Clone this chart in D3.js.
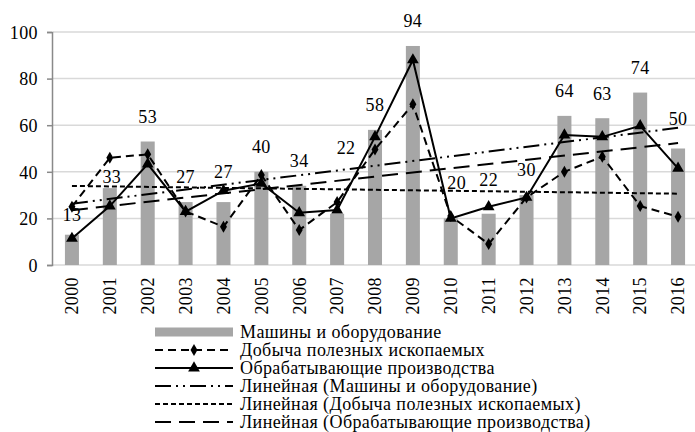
<!DOCTYPE html>
<html lang="ru">
<head>
<meta charset="UTF-8">
<title>chart</title>
<script src="https://d3js.org/d3.v7.min.js"></script>
<style>
  body { margin: 0; background: #fff; }
</style>
</head>
<body>
<svg></svg>
<script>
  const years = ['2000','2001','2002','2003','2004','2005','2006','2007','2008','2009','2010','2011','2012','2013','2014','2015','2016']
  const machines = [13, 33, 53, 27, 27, 40, 34, 22, 58, 94, 20, 22, 30, 64, 63, 74, 50]
  const mining = [25, 46, 47.5, 23, 16.4, 38.6, 15, 27, 49.6, 69, 21, 9, 29, 40, 46.5, 25.3, 20.7]
  const manufacturing = [11.4, 25.3, 43.3, 22.9, 31.9, 35, 22.4, 23.6, 55, 88, 20, 25, 29, 55.8, 55, 59.7, 41.5]
  const yTicks = [0, 20, 40, 60, 80, 100]
  const legendNames = [
    'Машины и оборудование',
    'Добыча полезных ископаемых',
    'Обрабатывающие производства',
    'Линейная (Машины и оборудование)',
    'Линейная (Добыча полезных ископаемых)',
    'Линейная (Обрабатывающие производства)'
  ]

  const FONT = "'Liberation Serif', 'Times New Roman', serif"
  const FS = '18px', LS = '0.4px'
  const W = 695, H = 432
  const svg = d3.select('svg').attr('width', W).attr('height', H)
    .style('font-family', FONT)

  const x = d3.scaleBand().domain(years).range([53, 697]).paddingInner(0.63).paddingOuter(0.315)
  const cx = d => x(d) + x.bandwidth() / 2
  const y = d3.scaleLinear().domain([0, 100]).range([265, 32])

  // grid
  svg.append('g').selectAll('line').data(yTicks).join('line')
    .attr('x1', 53).attr('x2', W).attr('y1', d => y(d)).attr('y2', d => y(d))
    .attr('stroke', '#d9d9d9').attr('stroke-width', 1.5)

  // y axis
  const yAxis = svg.append('g').attr('transform', 'translate(52,0)')
    .call(d3.axisLeft(y).tickValues(yTicks).tickSize(5).tickPadding(9))
  yAxis.attr('font-family', null)
  yAxis.select('.domain').attr('stroke', '#898989').attr('stroke-width', 1.5)
  yAxis.selectAll('.tick line').attr('stroke', '#898989').attr('stroke-width', 1.5)
  yAxis.selectAll('text').style('font-family', FONT).style('font-size', FS).style('letter-spacing', LS)
    .attr('fill', '#000').attr('dy', '0.35em')

  // x labels
  const xAxis = svg.append('g').attr('transform', 'translate(0,265)')
    .call(d3.axisBottom(x).tickSize(0).tickPadding(0))
  xAxis.attr('font-family', null)
  xAxis.select('.domain').remove()
  xAxis.selectAll('text')
    .style('font-family', FONT)
    .style('font-size', FS).style('letter-spacing', LS)
    .attr('fill', '#000')
    .attr('text-anchor', 'end')
    .attr('transform', 'rotate(-90)')
    .attr('x', -12).attr('y', 0).attr('dy', '0.35em')

  // bars
  svg.append('g').selectAll('rect').data(machines).join('rect')
    .attr('x', (d, i) => x(years[i]))
    .attr('width', x.bandwidth())
    .attr('y', d => y(d))
    .attr('height', d => y(0) - y(d))
    .attr('fill', '#a6a6a6')

  // trend lines (least squares)
  function trend(vals) {
    const n = vals.length
    const xs = d3.range(n)
    const mx = d3.mean(xs), my = d3.mean(vals)
    const b = d3.sum(xs, i => (i - mx) * (vals[i] - my)) / d3.sum(xs, i => (i - mx) ** 2)
    return [my - b * mx, my + b * (n - 1 - mx)]
  }
  const trends = [
    { vals: machines, dash: '16,5,2,5,2,5' },
    { vals: mining, dash: '5,3' },
    { vals: manufacturing, dash: '16,8' }
  ]
  trends.forEach(t => {
    const [a, b] = trend(t.vals)
    svg.append('line')
      .attr('x1', cx(years[0])).attr('x2', cx(years[years.length - 1]))
      .attr('y1', y(a)).attr('y2', y(b))
      .attr('stroke', '#000').attr('stroke-width', 2).attr('stroke-dasharray', t.dash)
  })

  const line = d3.line().x((d, i) => cx(years[i])).y(d => y(d))

  // mining
  svg.append('path').datum(mining).attr('d', line)
    .attr('fill', 'none').attr('stroke', '#000').attr('stroke-width', 2).attr('stroke-dasharray', '8,5')
  svg.append('g').selectAll('path').data(mining).join('path')
    .attr('d', d3.symbol(d3.symbolDiamond, 42))
    .attr('transform', (d, i) => `translate(${cx(years[i])},${y(d)})`)
    .attr('fill', '#000')

  // manufacturing
  svg.append('path').datum(manufacturing).attr('d', line)
    .attr('fill', 'none').attr('stroke', '#000').attr('stroke-width', 2)
  svg.append('g').selectAll('path').data(manufacturing).join('path')
    .attr('d', d3.symbol(d3.symbolTriangle, 60))
    .attr('transform', (d, i) => `translate(${cx(years[i])},${y(d)})`)
    .attr('fill', '#000')

  // bar value labels (a few nudged like in the original)
  const nudge = { '2000': [0, 5], '2001': [2, 14], '2004': [0, -5], '2007': [9, -41], '2010': [6, -11], '2011': [0, -9], '2016': [0, -5] }
  svg.append('g').selectAll('text').data(machines).join('text')
    .attr('x', (d, i) => cx(years[i]) + (nudge[years[i]] || [0, 0])[0])
    .attr('y', (d, i) => y(d) - 25 + (nudge[years[i]] || [0, 0])[1])
    .attr('dy', '0.35em')
    .attr('text-anchor', 'middle')
    .style('font-size', FS).style('letter-spacing', LS)
    .text(d => d)

  // legend
  const lg = svg.append('g')
  const ly = i => 332 + i * 18
  const lx0 = 155, lx1 = 233
  lg.append('rect').attr('x', lx0).attr('y', ly(0) - 4.5).attr('width', lx1 - lx0).attr('height', 9).attr('fill', '#a6a6a6')
  lg.append('line').attr('x1', lx0).attr('x2', lx1).attr('y1', ly(1)).attr('y2', ly(1))
    .attr('stroke', '#000').attr('stroke-width', 2).attr('stroke-dasharray', '8,5')
  lg.append('path').attr('d', d3.symbol(d3.symbolDiamond, 42)).attr('transform', `translate(${(lx0 + lx1) / 2},${ly(1)})`)
  lg.append('line').attr('x1', lx0).attr('x2', lx1).attr('y1', ly(2)).attr('y2', ly(2))
    .attr('stroke', '#000').attr('stroke-width', 2)
  lg.append('path').attr('d', d3.symbol(d3.symbolTriangle, 60)).attr('transform', `translate(${(lx0 + lx1) / 2},${ly(2)})`)
  trends.forEach((t, i) => {
    lg.append('line').attr('x1', lx0).attr('x2', lx1).attr('y1', ly(3 + i)).attr('y2', ly(3 + i))
      .attr('stroke', '#000').attr('stroke-width', 2).attr('stroke-dasharray', t.dash)
  })
  lg.selectAll('text').data(legendNames).join('text')
    .attr('x', 240).attr('y', (d, i) => ly(i)).attr('dy', '0.35em')
    .style('font-size', FS).style('letter-spacing', LS)
    .text(d => d)
</script>
</body>
</html>
